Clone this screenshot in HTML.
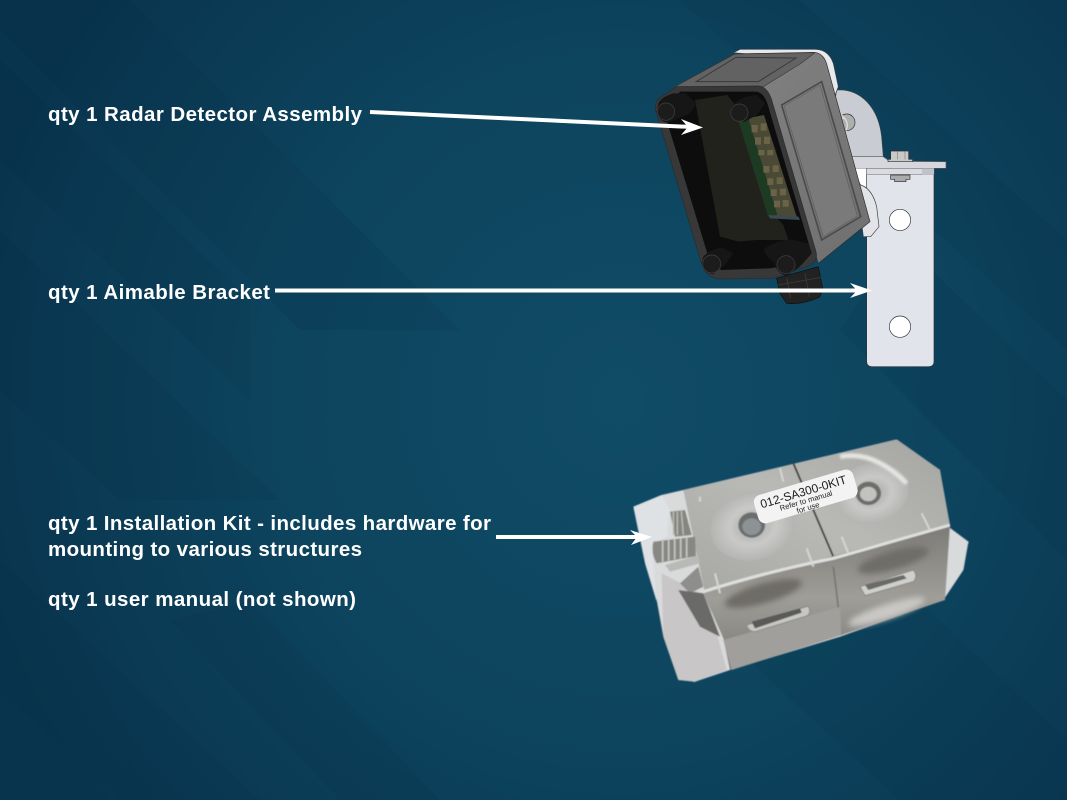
<!DOCTYPE html>
<html><head><meta charset="utf-8"><style>
html,body{margin:0;padding:0;background:#0b3a53;width:1067px;height:800px;overflow:hidden}
svg{display:block}
text{font-family:"Liberation Sans",sans-serif}
</style></head><body>
<svg width="1067" height="800" viewBox="0 0 1067 800" xmlns="http://www.w3.org/2000/svg">
<defs>
<radialGradient id="bg" gradientUnits="userSpaceOnUse" cx="620" cy="400" r="660">
<stop offset="0" stop-color="#104c66"/><stop offset=".55" stop-color="#0d435d"/><stop offset="1" stop-color="#09344e"/>
</radialGradient>
<linearGradient id="side" x1="0" y1="0" x2="1" y2="1">
<stop offset="0" stop-color="#858585"/><stop offset="1" stop-color="#6f6f6f"/>
</linearGradient>
<linearGradient id="metal2" x1="0" y1="0" x2="0" y2="1">
<stop offset="0" stop-color="#7d7b77"/><stop offset=".5" stop-color="#a09e99"/><stop offset="1" stop-color="#7b7975"/>
</linearGradient>
<linearGradient id="top" x1="0" y1="1" x2="1" y2="0">
<stop offset="0" stop-color="#a7a7a4"/><stop offset=".5" stop-color="#b9b9b6"/><stop offset="1" stop-color="#a5a5a2"/>
</linearGradient>
<radialGradient id="washer"><stop offset="0" stop-color="#a4a6a5"/><stop offset=".55" stop-color="#c9cac8"/><stop offset="1" stop-color="#b4b5b3"/></radialGradient>
<filter id="soft"><feGaussianBlur stdDeviation="3"/></filter>
<filter id="soft2"><feGaussianBlur stdDeviation="9"/></filter>
<filter id="kit" x="-5%" y="-5%" width="110%" height="110%"><feGaussianBlur stdDeviation="1.5"/></filter>
<filter id="boxb" x="-5%" y="-5%" width="110%" height="110%"><feGaussianBlur stdDeviation="1"/></filter>
<filter id="t"><feGaussianBlur stdDeviation=".3"/></filter>
</defs>
<rect width="1067" height="800" fill="url(#bg)"/>
<g fill="#062c45" opacity=".13">
<polygon points="0,60 250,300 250,400 0,160"/>
<polygon points="0,230 280,500 120,500 0,390"/>
<polygon points="130,0 460,330 300,330 0,30 0,0"/>
<polygon points="800,0 1067,240 1067,350 680,0"/>
<polygon points="900,240 1067,400 1067,560 840,330"/>
<polygon points="790,480 1067,740 1067,800 900,800 640,560"/>
<polygon points="0,560 260,800 120,800 0,690"/>
<polygon points="250,600 440,800 340,800 170,620"/>
</g>

<!-- Bracket -->
<g transform="translate(640,40) scale(.33333)">
<path d="M590,150 C660,145 715,200 725,290 L730,350 L750,362 L918,365 L918,385 L640,385 L585,180Z" fill="#c9ccd3" stroke="#3c4148" stroke-width="2"/>
<path d="M635,350 L730,350 L750,364 L918,365 L918,385 L640,385Z" fill="#d5d7dc" stroke="#50545a" stroke-width="2"/>
<polygon points="640,385 680,385 680,470 660,430" fill="#fff"/>
<path d="M680,385 H882 V965 Q882,980 866,980 H696 Q680,980 680,965Z" fill="#e1e4ea" stroke="#30353a" stroke-width="2"/>
<rect x="680" y="385" width="202" height="18" fill="#d9dbe0" stroke="#6a6e74" stroke-width="1.500"/>
<rect x="846" y="385" width="36" height="18" fill="#bfc2c8"/>
<circle cx="780" cy="540" r="32" fill="#fff" stroke="#30353a" stroke-width="2"/>
<circle cx="780" cy="860" r="32" fill="#fff" stroke="#30353a" stroke-width="2"/>
<path d="M752,333 H806 V358 H818 V365 H744 V358 H752Z" fill="#c9c9c6" stroke="#2c2f33" stroke-width="2"/>
<path d="M772,333 V358 M795,333 V358" stroke="#666" stroke-width="1.500"/>
<path d="M752,405 H810 V418 H798 V425 H764 V418 H752Z" fill="#a9aaa9" stroke="#2c2f33" stroke-width="2"/>
<circle cx="620" cy="247" r="25" fill="#aeb0ae" stroke="#2c2f33" stroke-width="2"/>
<path d="M604,225 Q630,245 618,272 M595,240 L614,232" stroke="#ddd" stroke-width="4" fill="none"/>
<path d="M280,38 L300,28 L525,28 Q565,28 580,70 L595,140 L580,180 L540,60Z" fill="#e8e9ec" stroke="#3b3f44" stroke-width="2"/>
<path d="M650,432 Q695,438 710,500 L717,560 L692,590 L670,590Z" fill="#e3e4e8" stroke="#3b3f44" stroke-width="2"/>
<g filter="url(#boxb)">
<!-- gland -->
<path d="M410,715 L535,680 L548,745 L540,770 Q490,795 440,790 L420,760Z" fill="#232322" stroke="#0e0e0e" stroke-width="2"/>
<path d="M414,735 L545,712 M440,715 L452,775 M495,700 L508,770" stroke="#3a3a3a" stroke-width="2.500" fill="none"/>
<!-- body side & top -->
<path d="M105,140 L285,42 L520,37 Q550,38 560,72 L690,545 L535,670 L365,160Z" fill="url(#side)" stroke="#2d2d2d" stroke-width="2"/>
<path d="M105,140 L285,42 L525,38 Q500,58 480,72 L370,140Z" fill="#636363" stroke="#3a3a3a" stroke-width="2"/>
<polygon points="168,125 288,52 468,54 355,125" fill="#626262" stroke="#3a3a3a" stroke-width="3"/>
<polygon points="425,195 545,125 662,530 545,600" fill="none" stroke="#4c4c4c" stroke-width="5"/>
<polygon points="432,198 540,135 652,528 550,590" fill="#7a7a7a" stroke="#555" stroke-width="1.500"/>
<!-- front -->
<path d="M110,140 L355,138 Q385,140 398,190 L528,635 Q535,665 505,678 L400,715 L235,717 Q195,712 183,665 L48,215 Q40,185 65,170Z" fill="#393939" stroke="#2b2b2b" stroke-width="2"/>
<path d="M120,155 L350,155 Q375,160 385,200 L515,640 L490,668 L390,685 L245,690 Q215,680 205,650 L72,215 Z" fill="#0f0f0f"/>
<path d="M165,180 L262,165 L320,240 L398,520 L430,555 L445,600 L350,600 L295,605 Q260,595 240,590Z" fill="#20201f"/>
<path d="M295,240 L372,225 L470,530 L385,530Z" fill="#4a4a36"/>
<path d="M295,240 L325,235 L412,525 L385,530Z" fill="#1d3a22"/>
<g fill="#6a6447">
<rect x="335" y="255" width="18" height="22"/><rect x="362" y="250" width="18" height="22"/>
<rect x="345" y="292" width="18" height="22"/><rect x="372" y="290" width="18" height="22"/>
<rect x="355" y="330" width="18" height="16"/><rect x="382" y="330" width="18" height="16"/>
<rect x="370" y="378" width="18" height="20"/><rect x="398" y="376" width="18" height="20"/>
<rect x="382" y="415" width="18" height="20"/><rect x="410" y="412" width="18" height="20"/>
<rect x="392" y="448" width="18" height="20"/><rect x="420" y="446" width="18" height="20"/>
<rect x="402" y="482" width="18" height="20"/><rect x="428" y="480" width="18" height="20"/>
</g>
<path d="M385,525 L475,530 L480,540 L390,535Z" fill="#3a4a55"/>
<!-- screws -->
<g fill="#161616">
<path d="M55,190 Q65,170 100,160 L135,160 L170,190 L150,220 L85,248 Q55,245 50,215Z"/>
<path d="M272,205 Q285,182 320,170 L350,165 L375,190 L350,225 L315,245 Q280,245 272,205Z"/>
<path d="M190,650 Q205,632 245,622 L280,640 L255,675 L220,703 Q190,700 185,670Z"/>
<path d="M372,628 Q400,605 450,598 L505,610 L515,640 L480,680 L440,708 Q410,700 405,670 Q375,650 372,628Z"/>
</g>
<g fill="#1f1f1f" stroke="#404040" stroke-width="2">
<circle cx="78" cy="215" r="26"/><circle cx="298" cy="218" r="26"/><circle cx="215" cy="672" r="27"/><circle cx="438" cy="674" r="27"/>
</g>
</g>
</g>

<!-- Installation Kit -->
<g transform="translate(620,430) scale(.33333)">
<g filter="url(#kit)">
<path d="M40,230 L125,195 L190,180 L830,28 L960,120 L985,290 L1045,335 L1030,420 L970,510 L660,620 L330,720 L225,755 L175,750 L130,620 L110,510 L80,400Z" fill="#d9dadb"/>
<path d="M40,230 L125,195 L150,240 L140,320 L95,345 L110,515 L75,400Z" fill="#dfe2e4"/>
<path d="M125,430 L260,500 L320,720 L225,755 L175,750 L130,620Z" fill="#c8c6c7"/>
<path d="M985,290 L1045,335 L1030,420 L970,510 L985,400Z" fill="#d8dadc"/>
<path d="M190,180 L830,28 L960,120 L990,285 L640,385 L300,495 L255,490Z" fill="url(#top)"/>
<path d="M520,100 L640,380" stroke="#333" stroke-width="5" fill="none"/>
<path d="M250,490 L640,378 L990,285 L975,510 L665,615 L330,720 L310,625Z" fill="url(#metal2)"/>
<path d="M640,410 L665,615" stroke="#6e6e6a" stroke-width="4"/>
<path d="M250,485 Q420,430 640,385 Q800,340 990,285" stroke="#dfe0de" stroke-width="9" fill="none"/>
<path d="M310,630 L660,530 L665,615 L335,720Z" fill="#a09f9b"/>
<g filter="url(#soft2)">
<ellipse cx="430" cy="490" rx="120" ry="30" fill="#6e6c68" transform="rotate(-16 430 490)"/>
<ellipse cx="820" cy="390" rx="110" ry="28" fill="#6f6d69" transform="rotate(-16 820 390)"/>
<ellipse cx="800" cy="545" rx="120" ry="22" fill="#c9c8c4" transform="rotate(-18 800 545)"/>
</g>
<path d="M380,585 L565,528 Q575,550 560,558 L405,605 Q385,605 380,585Z" fill="#c7c7c3" stroke="#8a8a86" stroke-width="3"/>
<path d="M395,575 L540,535 L545,548 L405,595Z" fill="#5a5a58"/>
<path d="M720,470 L880,420 Q895,440 880,455 L735,497Z" fill="#cfcfcb" stroke="#8a8a86" stroke-width="3"/>
<path d="M735,465 L850,435 L860,445 L745,480Z" fill="#6b6b68"/>
<ellipse cx="398" cy="288" rx="128" ry="102" fill="url(#washer)" transform="rotate(-15 398 288)"/>
<ellipse cx="755" cy="190" rx="112" ry="90" fill="url(#washer)" transform="rotate(-15 755 190)"/>
<ellipse cx="395" cy="285" rx="40" ry="38" fill="#6c6e6e"/>
<ellipse cx="395" cy="290" rx="28" ry="25" fill="#8d9394"/>
<ellipse cx="745" cy="190" rx="38" ry="35" fill="#6d6e6c"/>
<ellipse cx="745" cy="192" rx="25" ry="22" fill="#c2c2be"/>
<path d="M660,80 Q760,60 860,160" stroke="#e6e6e3" stroke-width="14" fill="none" filter="url(#soft)"/>
<path d="M240,200 V215 M480,115 L490,155 M665,320 L685,370 M285,430 L300,490 M560,355 L580,410 M905,250 L930,300" stroke="#d6d6d3" stroke-width="6" fill="none"/>
<!-- bolts -->
<path d="M150,245 L195,240 L215,315 L165,320Z" fill="#85867f"/>
<path d="M160,245 V315 M172,245 V315 M184,243 L190,315" stroke="#c0c1bd" stroke-width="4"/>
<path d="M100,335 L225,320 L228,378 L110,400 Q92,370 100,335Z" fill="#878883"/>
<path d="M128,328 V395 M146,326 V392 M164,324 V388 M182,322 V385 M200,320 V382" stroke="#c8c9c5" stroke-width="5"/>
<path d="M135,405 L235,375 L240,400 L150,425Z" fill="#b9b9b6"/>
<path d="M180,460 L235,410 L250,470 L210,490Z" fill="#8e8e8c"/>
<path d="M175,480 L250,490 L300,620 L240,590Z" fill="#6a6a68"/>
</g>
<!-- label -->
<rect x="404" y="155" width="310" height="88" rx="22" ry="22" fill="#f2f3f2" transform="rotate(-16.5 559 205)"/>
<g transform="rotate(-16.5 559 205)" fill="#1c1c1c" text-anchor="middle">
<text x="556" y="196" font-size="36">012-SA300-0KIT</text>
<text x="556" y="219" font-size="23">Refer to manual</text>
<text x="556" y="241" font-size="23">for use</text>
</g>
</g>

<!-- arrows -->
<g stroke="#fff" stroke-width="4" fill="none">
<line x1="370" y1="112" x2="692" y2="127"/>
<line x1="275" y1="290.500" x2="862" y2="290.500"/>
<line x1="496" y1="537" x2="642" y2="537"/>
</g>
<g fill="#fff">
<polygon points="681,119 703,127.500 681,135 688,127"/>
<polygon points="850,283 872,290.500 850,298 857,290.500"/>
<polygon points="630,530 652,537 631,545 637,537"/>
</g>

<!-- labels -->
<g fill="#fff" font-weight="700" font-size="20.500" filter="url(#t)">
<text x="48" y="121" textLength="314" lengthAdjust="spacing">qty 1 Radar Detector Assembly</text>
<text x="48" y="299" textLength="222" lengthAdjust="spacing">qty 1 Aimable Bracket</text>
<text x="48" y="530" textLength="443" lengthAdjust="spacing">qty 1 Installation Kit - includes hardware for</text>
<text x="48" y="556" textLength="314" lengthAdjust="spacing">mounting to various structures</text>
<text x="48" y="606" textLength="308" lengthAdjust="spacing">qty 1 user manual (not shown)</text>
</g>
</svg>
</body></html>
